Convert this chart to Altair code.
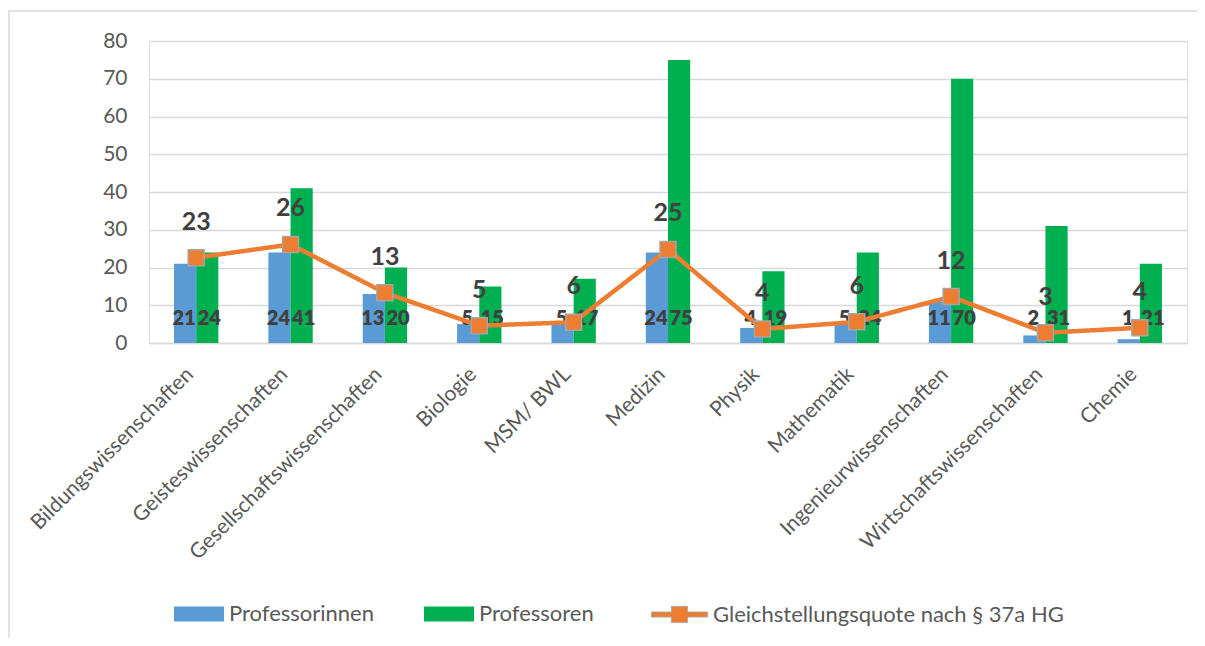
import altair as alt
import pandas as pd

categories = ["Bildungswissenschaften", "Geisteswissenschaften", "Gesellschaftswissenschaften",
              "Biologie", "MSM/ BWL", "Medizin", "Physik", "Mathematik",
              "Ingenieurwissenschaften", "Wirtschaftswissenschaften", "Chemie"]
professorinnen = [21, 24, 13, 5, 5, 24, 4, 5, 11, 2, 1]
professoren = [24, 41, 20, 15, 17, 75, 19, 24, 70, 31, 21]
quote = [22.6, 26.1, 13.3, 4.6, 5.5, 24.8, 3.7, 5.6, 12.3, 2.7, 4.05]
series_names = ["Professorinnen", "Professoren"]
line_name = "Gleichstellungsquote nach § 37a HG"
y_ticks = [0, 10, 20, 30, 40, 50, 60, 70, 80]

BLUE, GREEN, ORANGE = "#5B9BD5", "#00B050", "#ED7D31"
FONT = "Lato"

bars_df = pd.DataFrame(
    [{"cat": c, "series": series_names[0], "value": v} for c, v in zip(categories, professorinnen)]
    + [{"cat": c, "series": series_names[1], "value": v} for c, v in zip(categories, professoren)]
)
line_df = pd.DataFrame({"cat": categories, "quote": quote, "lname": [line_name] * len(categories)})

x_axis = alt.Axis(domain=True, domainColor="#d9d9d9", domainWidth=1.5, ticks=False,
                  labelAngle=-45, labelAlign="right", labelBaseline="middle",
                  labelFontSize=21, labelColor="#595959", labelPadding=28, labelOffset=-6,
                  labelFont=FONT, grid=False, title=None, labelLimit=500)
y_axis = alt.Axis(domain=False, ticks=False, grid=True, gridColor="#d9d9d9", gridWidth=1.5,
                  values=y_ticks, tickCount=9, labelFontSize=21, labelColor="#595959", labelPadding=22,
                  labelFont=FONT, title=None, labelOverlap=False)
x_scale = alt.Scale(paddingInner=0.53, paddingOuter=0.265)
y_scale = alt.Scale(domain=[0, 80], nice=False)

X = alt.X("cat:N", sort=categories, scale=x_scale, axis=x_axis, title=None)
XOFF = alt.XOffset("series:N", sort=series_names, scale=alt.Scale(paddingInner=0))

bars = alt.Chart(bars_df).mark_bar().encode(
    x=X,
    xOffset=XOFF,
    y=alt.Y("value:Q", scale=y_scale, axis=y_axis, title=None),
    color=alt.Color("series:N", scale=alt.Scale(domain=series_names, range=[BLUE, GREEN]),
                    legend=alt.Legend(orient="none", legendX=25, legendY=548, direction="horizontal",
                                      title=None, symbolType="M-1,-0.3H1V0.3H-1Z", symbolSize=2500,
                                      symbolStrokeWidth=0, labelFontSize=22, labelColor="#595959",
                                      labelFont=FONT, columnPadding=49, labelOffset=5, padding=0,
                                      labelLimit=500)),
)

label_style = dict(dy=-24, fontSize=20, fontWeight=800, color="#404040", font=FONT)
bar_labels_w = alt.Chart(bars_df).transform_filter(
    alt.datum.series == series_names[0]
).mark_text(dx=-1, **label_style).encode(
    x=X, xOffset=XOFF,
    y=alt.Y(datum=0, scale=y_scale, axis=y_axis, title=None),
    text=alt.Text("value:Q"),
)
bar_labels_m = alt.Chart(bars_df).transform_filter(
    alt.datum.series == series_names[1]
).mark_text(dx=2, **label_style).encode(
    x=X, xOffset=XOFF,
    y=alt.Y(datum=0, scale=y_scale, axis=y_axis, title=None),
    text=alt.Text("value:Q"),
)

line = alt.Chart(line_df).mark_line(color=ORANGE, strokeWidth=4.5).encode(
    x=X,
    y=alt.Y("quote:Q", scale=y_scale, axis=y_axis, title=None),
    strokeDash=alt.StrokeDash("lname:N", scale=alt.Scale(domain=[line_name], range=[[1, 0]]),
                              legend=alt.Legend(orient="none", legendX=502, legendY=545, title=None,
                                                symbolType="M-1,-0.09H-0.29V-0.29H0.29V-0.09H1V0.09H0.29V0.29H-0.29V0.09H-1Z",
                                                symbolSize=3136, symbolFillColor=ORANGE,
                                                symbolStrokeColor="#A5A5A5", symbolStrokeWidth=1,
                                                labelFontSize=22, labelColor="#595959", labelFont=FONT,
                                                labelOffset=5, padding=0, labelLimit=600)),
)

points = alt.Chart(line_df).mark_point(shape="square", filled=True, size=256, fill=ORANGE,
                                       stroke="#A5A5A5", strokeWidth=1.5, opacity=1).encode(
    x=X,
    y=alt.Y("quote:Q", scale=y_scale, axis=y_axis, title=None),
)

quote_labels = alt.Chart(line_df).mark_text(dy=-36, fontSize=25, fontWeight="bold", color="#404040",
                                            font=FONT).encode(
    x=X,
    y=alt.Y("quote:Q", scale=y_scale, axis=y_axis, title=None),
    text=alt.Text("quote:Q", format=".0f"),
)

frame_df = pd.DataFrame({"a": [0]})
frame_left = alt.Chart(frame_df).mark_rule(color="#d9d9d9", strokeWidth=1.5).encode(
    x=alt.value(-140), y=alt.value(-30), y2=alt.value(610))
frame_top = alt.Chart(frame_df).mark_rule(color="#d9d9d9", strokeWidth=1.5).encode(
    x=alt.value(-140), x2=alt.value(1060), y=alt.value(-30))

chart = alt.layer(bars, bar_labels_w, bar_labels_m, line, points, quote_labels,
                  frame_left, frame_top).properties(
    width=1038, height=302,
    padding={"left": 141, "top": 33, "right": 10, "bottom": 295},
    autosize=alt.AutoSizeParams(type="none"),
).configure_view(strokeWidth=0, stroke="transparent").configure(background="white")

chart.save("out.html", embed_options={"renderer": "svg", "actions": False})
